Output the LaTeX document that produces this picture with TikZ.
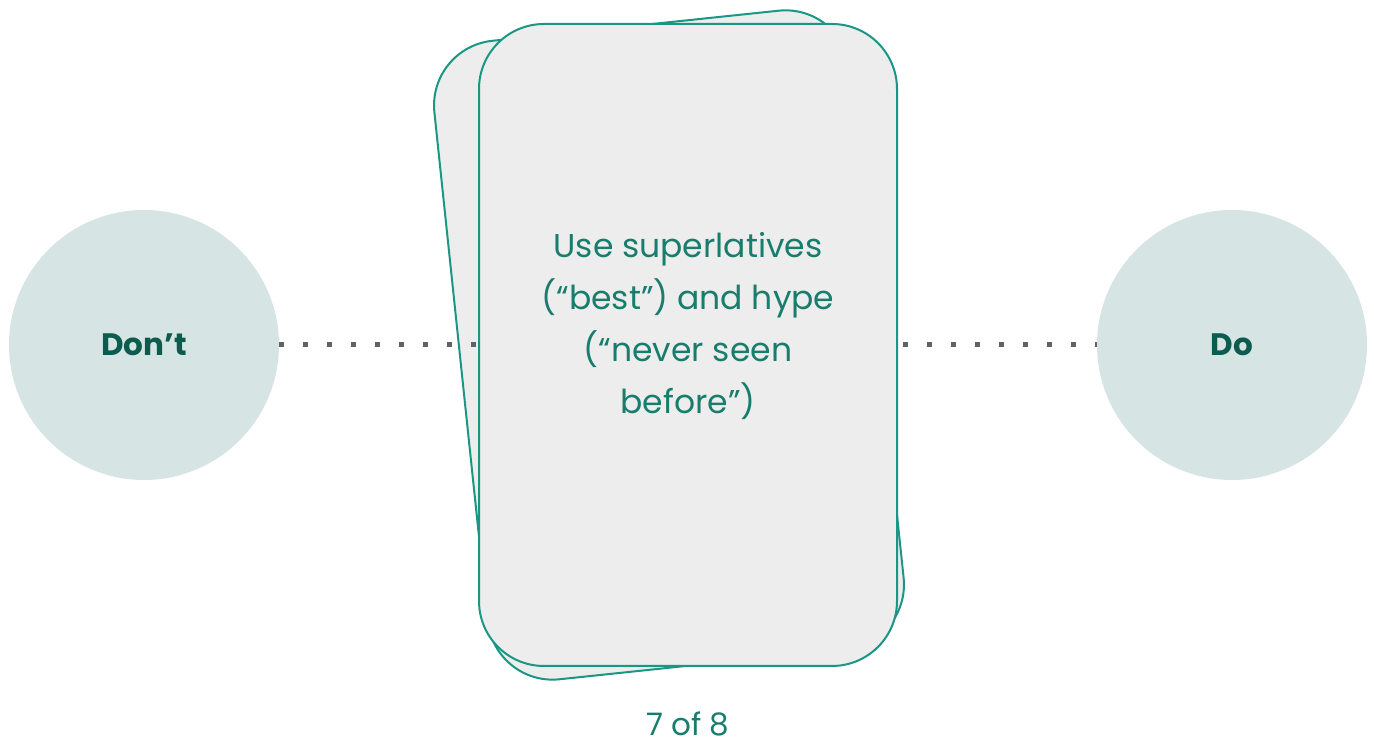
\documentclass[tikz,border=0pt]{standalone}
\usepackage{fontspec}
\setmainfont{Poppins}
\usepackage{xcolor}
\usepackage{tikz}
\usetikzlibrary{positioning,calc}
\definecolor{dk}{RGB}{11,92,78}
\definecolor{tl}{RGB}{24,125,108}
\definecolor{rim}{RGB}{26,150,133}
\definecolor{pale}{RGB}{214,229,227}
\definecolor{card}{RGB}{237,237,237}
\definecolor{dots}{RGB}{95,99,104}
\newcommand{\DK}[1]{\textcolor{dk}{#1}}
\newcommand{\TL}[1]{\textcolor{tl}{#1}}
\tikzset{
  cardbox/.style={draw=rim,fill=card,line width=2pt,rounded corners=65pt,
    minimum width=418pt,minimum height=642pt,inner sep=0pt},
  bubble/.style={circle,fill=pale,minimum size=270pt,inner sep=0pt,
    font=\fontsize{31}{38}\selectfont\bfseries},
  dotline/.style={dots,line width=5pt,dash pattern=on 5pt off 19pt}
}

\begin{document}
\begin{tikzpicture}[x=1pt,y=1pt]
  \useasboundingbox (0,0) rectangle (1374,746);

  % circles
  \node[bubble] (dont) at (144,401) {\DK{Don’t}};
  \node[bubble] (do) at (1232,401) {\DK{Do}};

  % card behind, tilted
  \node[cardbox,rotate=6] (back) at (669,401) {};

  % dotted link
  \draw[dotline] (dont.east) -- (do.west);

  % card in front
  \node[cardbox] (front) at (688,401) {};
  \node[align=center,font=\fontsize{33}{52}\selectfont] (tip) at (688,420)
    {\TL{Use superlatives}\\\TL{(“best”) and hype}\\\TL{(“never seen}\\\TL{before”)}};

  % counter
  \node[anchor=base,inner sep=0pt,font=\fontsize{31}{36}\selectfont] (count) at (688,10) {\TL{7 of 8}};
\end{tikzpicture}
\end{document}
